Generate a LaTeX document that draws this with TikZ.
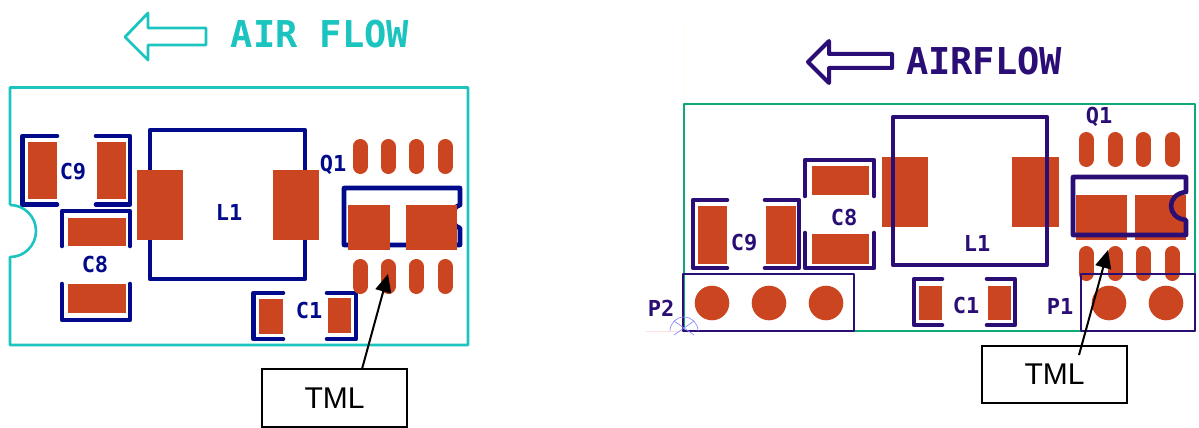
\documentclass[tikz,border=0pt]{standalone}
\usepackage{fontspec}
\setmainfont{Liberation Sans}
\newfontfamily\silkfont{DejaVu Sans Mono}
\usetikzlibrary{arrows.meta}
\definecolor{copper}{HTML}{CB4520}
\definecolor{navysilk}{HTML}{000A8A}
\definecolor{purplesilk}{HTML}{2A0E75}
\definecolor{tealedge}{HTML}{1CC4C0}
\definecolor{greenedge}{HTML}{10A878}
\tikzset{
  padfill/.style={fill=copper,draw=none},
  slotpad/.style={draw=copper,line width=15pt,line cap=round},
  silkL/.style={draw=navysilk,line width=4.6pt,line cap=round,line join=round},
  silkR/.style={draw=purplesilk,line width=4.6pt,line cap=round,line join=round},
  silkthin/.style={draw=purplesilk,line width=2.4pt,line join=round},
  labelL/.style={text=navysilk,inner sep=0pt,font=\silkfont\bfseries\fontsize{22}{22}\selectfont},
  labelR/.style={text=purplesilk,inner sep=0pt,font=\silkfont\bfseries\fontsize{22}{22}\selectfont},
  calloutbox/.style={draw=black,line width=1.6pt,fill=none,inner sep=0pt,font=\fontsize{30}{32}\selectfont},
  pointer/.style={draw=black,line width=2pt,-{Triangle[length=18pt,width=16pt]}},
}
\newcommand{\padrect}[4]{\fill[padfill] (#1,#2) rectangle (#3,#4);}
\newcommand{\roundpad}[2]{\fill[padfill] (#1,#2) circle[radius=17.3pt];}
\begin{document}
\begin{tikzpicture}[x=1pt,y=-1pt]
\useasboundingbox (0,0) rectangle (1199,428);
%% ---------- left board ----------
\draw[tealedge,line width=2.8pt,line join=round] (148,13) -- (125,37) -- (148,60) -- (148,45) -- (206,45) -- (206,28) -- (148,28) -- cycle;
\node[text=tealedge,inner sep=0pt,font=\silkfont\bfseries\fontsize{37}{37}\selectfont] (airL) at (320,34) {AIR FLOW};
\draw[tealedge,line width=2.6pt,line join=round]
  (10,205) -- (10,87.5) -- (468,87.5) -- (468,345) -- (10,345) -- (10,257)
  .. controls (24.4,257) and (36,245.4) .. (36,231) .. controls (36,216.6) and (24.4,205) .. (10,205);
% silkscreen
\draw[silkL] (57,136) -- (22.5,136) -- (22.5,204.5) -- (57,204.5);
\draw[silkL] (96,136) -- (130,136) -- (130,204.5) -- (96,204.5);
\draw[silkL] (62,246) -- (62,211) -- (130,211) -- (130,246);
\draw[silkL] (62,284) -- (62,320) -- (130,320) -- (130,284);
\draw[silkL] (150,170) -- (150,130) -- (305,130) -- (305,279) -- (150,279) -- (150,240);
\draw[silkL] (283,293) -- (253.5,293) -- (253.5,339) -- (283,339);
\draw[silkL] (327,293) -- (356,293) -- (356,339) -- (327,339);
\draw[silkL] (460,205) -- (460,188) -- (344,188) -- (344,245) -- (460,245) -- (460,228)
  .. controls (450,226) and (450,207) .. (460,205);
% copper
\padrect{28}{142}{57}{199}
\padrect{97}{142}{126}{199}
\padrect{68}{218}{126}{246}
\padrect{68}{284}{126}{313}
\padrect{137}{170}{183}{240}
\padrect{273}{170}{319}{240}
\padrect{259}{299}{283}{334}
\padrect{328}{298}{351}{333}
\padrect{348}{205}{390}{250}
\padrect{406}{205}{457}{250}
\foreach \px in {360,388,416,445}{
  \draw[slotpad] (\px,146.5) -- (\px,166.5);
  \draw[slotpad] (\px,266.5) -- (\px,286.5);
}
\node[labelL] (c9L) at (73,172) {C9};
\node[labelL] (c8L) at (95,264) {C8};
\node[labelL] (l1L) at (229,212) {L1};
\node[labelL] (c1L) at (309,310) {C1};
\node[labelL] (q1L) at (333,165) {Q1};
% callout
\node[calloutbox,minimum width=145pt,minimum height=58pt] (tmlL) at (334.5,398) {TML};
\coordinate (tipL) at (388,274);
\coordinate (startL) at (362,369);
\draw[pointer] (startL) -- (tipL);
%% ---------- right board ----------
\draw[draw=black!8!yellow!6!white,line width=1pt] (684,20) -- (684,104);
\draw[draw=red!12,line width=1pt] (646,331) -- (684,331);
\draw[purplesilk,line width=4pt,line join=round] (829,41) -- (808,62) -- (829,83) -- (829,68) -- (892,68) -- (892,54) -- (829,54) -- cycle;
\node[text=purplesilk,inner sep=0pt,font=\silkfont\bfseries\fontsize{37}{37}\selectfont] (airR) at (984,61) {AIRFLOW};
\draw[greenedge,line width=2.6pt,line join=round] (684,104) rectangle (1195,331);
% copper
\padrect{698}{206}{727}{264}
\padrect{766}{206}{796}{264}
\padrect{812}{166}{869}{195}
\padrect{812}{234}{869}{264}
\padrect{882}{157}{928}{227}
\padrect{1012}{157}{1059}{227}
\padrect{919}{286}{942}{320}
\padrect{988}{286}{1011}{320}
\padrect{1076}{195}{1127}{240}
\padrect{1135}{195}{1186}{240}
\foreach \px in {1086,1115,1143,1172}{
  \draw[slotpad] (\px,139.5) -- (\px,159.5);
  \draw[slotpad] (\px,253.5) -- (\px,273.5);
}
\roundpad{712}{303}
\roundpad{769}{303}
\roundpad{826}{303}
\roundpad{1109}{303}
\roundpad{1166}{303}
% silkscreen
\draw[silkR] (727,200) -- (693,200) -- (693,268) -- (727,268);
\draw[silkR] (765,200) -- (799,200) -- (799,268) -- (765,268);
\draw[silkR] (805,196) -- (805,160) -- (874,160) -- (874,196);
\draw[silkR] (805,233) -- (805,268) -- (874,268) -- (874,233);
\draw[silkR] (893,117) rectangle (1047,265);
\draw[silkR] (942,279) -- (914,279) -- (914,325) -- (942,325);
\draw[silkR] (987,279) -- (1015,279) -- (1015,325) -- (987,325);
\draw[silkR] (1186,192) -- (1186,177) -- (1073,177) -- (1073,235) -- (1186,235) -- (1186,220)
  .. controls (1166,218) and (1166,194) .. (1186,192);
\draw[silkthin] (683,274) rectangle (854,331);
\draw[silkthin] (1081,274) rectangle (1195,331);
\draw[draw=blue!45,line width=0.7pt] (670,331) arc[start angle=180,end angle=0,radius=14pt];
\draw[draw=blue!45,line width=0.7pt] (674,321) -- (694,335) (694,321) -- (674,335);
\node[labelR] (c9R) at (744,243) {C9};
\node[labelR] (c8R) at (844,217) {C8};
\node[labelR] (l1R) at (977,243) {L1};
\node[labelR] (c1R) at (966,305) {C1};
\node[labelR] (q1R) at (1099,117) {Q1};
\node[labelR] (p1R) at (1060,306) {P1};
\node[labelR] (p2R) at (661,308) {P2};
% callout
\node[calloutbox,minimum width=145pt,minimum height=57pt] (tmlR) at (1054.5,374.5) {TML};
\coordinate (tipR) at (1108,250);
\coordinate (startR) at (1079,355);
\draw[pointer] (startR) -- (tipR);
\end{tikzpicture}
\end{document}
